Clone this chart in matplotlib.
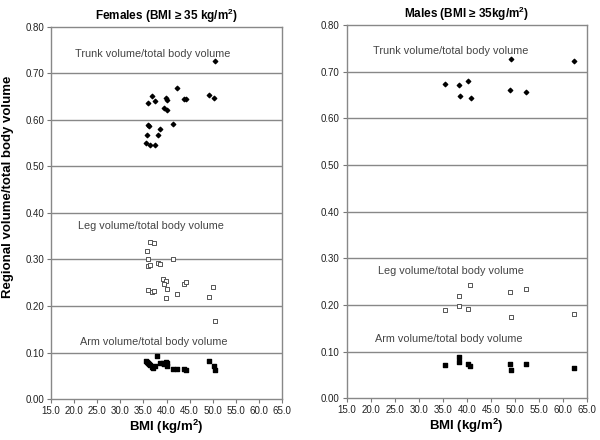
import matplotlib
matplotlib.use("Agg")
import matplotlib.pyplot as plt

plt.rcParams['font.family'] = ['Liberation Sans', 'DejaVu Sans']
plt.rcParams['mathtext.fontset'] = 'custom'
plt.rcParams['mathtext.rm'] = 'Liberation Sans'
plt.rcParams['mathtext.bf'] = 'Liberation Sans:bold'

# Females
f_trunk_bmi = [50.6, 42.2, 36.8, 36.1, 37.5, 39.9, 40.2, 43.8, 44.2, 49.1, 50.3,
               39.5, 40.0, 41.5, 36.1, 36.3, 38.6, 35.8, 38.1, 35.6, 36.4, 37.5]
f_trunk = [0.727, 0.669, 0.652, 0.636, 0.641, 0.647, 0.643, 0.645, 0.645, 0.654, 0.647,
           0.625, 0.621, 0.591, 0.589, 0.587, 0.581, 0.568, 0.568, 0.550, 0.545, 0.545]

f_leg_bmi = [36.4, 37.4, 35.7, 35.9, 41.5, 35.9, 36.4, 38.1, 38.6, 39.3, 39.9,
             39.5, 43.8, 44.2, 50.1, 35.9, 36.8, 37.4, 40.2, 42.2, 39.8, 49.1, 50.6]
f_leg = [0.338, 0.336, 0.318, 0.302, 0.301, 0.287, 0.288, 0.293, 0.290, 0.257, 0.254,
         0.247, 0.248, 0.251, 0.241, 0.234, 0.230, 0.233, 0.237, 0.226, 0.218, 0.220, 0.168]

f_arm_bmi = [35.6, 35.8, 36.1, 36.3, 36.4, 36.8, 37.0, 37.5, 38.0, 38.6, 39.3,
             39.5, 39.9, 40.0, 40.2, 41.5, 42.2, 43.8, 44.2, 49.1, 50.3, 50.6]
f_arm = [0.082, 0.079, 0.077, 0.075, 0.073, 0.070, 0.066, 0.072, 0.092, 0.077, 0.078,
         0.076, 0.079, 0.077, 0.072, 0.065, 0.065, 0.065, 0.063, 0.081, 0.072, 0.063]

# Males
m_bmi = [35.4, 38.4, 38.5, 40.3, 40.8, 49.2, 49.0, 52.3, 62.4]
m_trunk = [0.673, 0.672, 0.647, 0.681, 0.643, 0.728, 0.661, 0.657, 0.724]
m_leg_bmi = [35.4, 38.4, 38.4, 40.3, 40.6, 49.0, 49.2, 52.3, 62.4]
m_leg = [0.190, 0.220, 0.197, 0.192, 0.242, 0.227, 0.174, 0.234, 0.180]
m_arm_bmi = [35.4, 38.4, 38.4, 40.3, 40.6, 49.0, 49.2, 52.3, 62.4]
m_arm = [0.071, 0.089, 0.077, 0.074, 0.069, 0.074, 0.060, 0.073, 0.064]

xticks = [15, 20, 25, 30, 35, 40, 45, 50, 55, 60, 65]
yticks = [0.0, 0.1, 0.2, 0.3, 0.4, 0.5, 0.6, 0.7, 0.8]

fig = plt.figure(figsize=(6, 4.4), dpi=100)
ax1 = fig.add_axes([0.085, 0.093, 0.385, 0.846])
ax2 = fig.add_axes([0.578, 0.095, 0.400, 0.848])


def style(ax, title, labels):
    ax.set_xlim(15, 65)
    ax.set_ylim(0, 0.8)
    ax.set_xticks(xticks)
    ax.set_xticklabels(["%.1f" % v for v in xticks])
    ax.set_yticks(yticks)
    ax.set_yticklabels(["%.2f" % v for v in yticks])
    ax.tick_params(labelsize=7, length=3, color="#777777", pad=2, labelcolor="#222222")
    for v in yticks[1:-1]:
        ax.axhline(v, color="#888888", lw=1, zorder=0)
    for s in ax.spines.values():
        s.set_color("#888888")
        s.set_linewidth(1)
    ax.set_title(title, fontsize=8.5, fontweight="bold", pad=5)
    ax.set_xlabel("BMI (kg/m$^\\mathbf{2}$)", fontsize=9.5, fontweight="bold", labelpad=1)
    for x, y, t in labels:
        ax.text(x, y, t, fontsize=7.8, color="#444444", va="center")


ax1.scatter(f_trunk_bmi, f_trunk, marker="D", s=5, color="black", zorder=3)
ax1.scatter(f_leg_bmi, f_leg, marker="s", s=11, facecolor="white",
            edgecolor="#555555", linewidths=0.7, zorder=3)
ax1.scatter(f_arm_bmi, f_arm, marker="s", s=11, color="black", zorder=3)
style(ax1, "Females (BMI \u2265 35 kg/m$^\\mathbf{2}$)",
      [(20.2, 0.741, "Trunk volume/total body volume"),
       (20.8, 0.372, "Leg volume/total body volume"),
       (21.3, 0.123, "Arm volume/total body volume")])
ax1.set_ylabel("Regional volume/total body volume", fontsize=9.5, fontweight="bold")
ax1.yaxis.set_label_coords(-0.16, 0.57)

ax2.scatter(m_bmi, m_trunk, marker="D", s=5, color="black", zorder=3)
ax2.scatter(m_leg_bmi, m_leg, marker="s", s=11, facecolor="white",
            edgecolor="#555555", linewidths=0.7, zorder=3)
ax2.scatter(m_arm_bmi, m_arm, marker="s", s=11, color="black", zorder=3)
style(ax2, "Males (BMI \u2265 35kg/m$^\\mathbf{2}$)",
      [(20.4, 0.745, "Trunk volume/total body volume"),
       (21.5, 0.273, "Leg volume/total body volume"),
       (20.8, 0.127, "Arm volume/total body volume")])

fig.savefig("out.png", dpi=100)
